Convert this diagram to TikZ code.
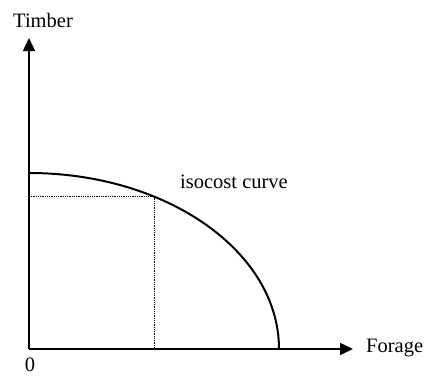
\documentclass[tikz,border=0pt]{standalone}
\usepackage{fontspec}
\setmainfont{Liberation Serif}
\usetikzlibrary{arrows.meta}
\begin{document}
\begin{tikzpicture}[x=1pt,y=1pt,
  axis/.style={line width=1.4pt,-{Triangle[length=13pt,width=12pt]}},
  curvestyle/.style={line width=2pt},
  guide/.style={line width=0.8pt,densely dotted},
  lbl/.style={font=\fontsize{20.5}{24}\selectfont,inner sep=0pt}]
\useasboundingbox (0,0) rectangle (429,376);
\coordinate (O) at (29,27);
\coordinate (ytop) at (29,338);
\coordinate (xend) at (353,27);
\coordinate (cstart) at (29,203);
\coordinate (cend) at (279,27);
\coordinate (P) at (154,179.4);
\coordinate (Px) at (154,27);
\coordinate (Py) at (29,179.4);
\draw[axis] (O) -- (ytop);
\draw[axis] (O) -- (xend);
\draw[curvestyle] (cstart) arc[start angle=90,end angle=0,x radius=250,y radius=176];
\draw[guide] (Py) -- (P) -- (Px);
\node[lbl,anchor=west] (timber) at (13,356) {Timber};
\node[lbl,anchor=west] (forage) at (366,28) {Forage};
\node[lbl] (zero) at (30,11) {0};
\node[lbl,anchor=west] (iso) at (180,194) {isocost curve};
\end{tikzpicture}
\end{document}
